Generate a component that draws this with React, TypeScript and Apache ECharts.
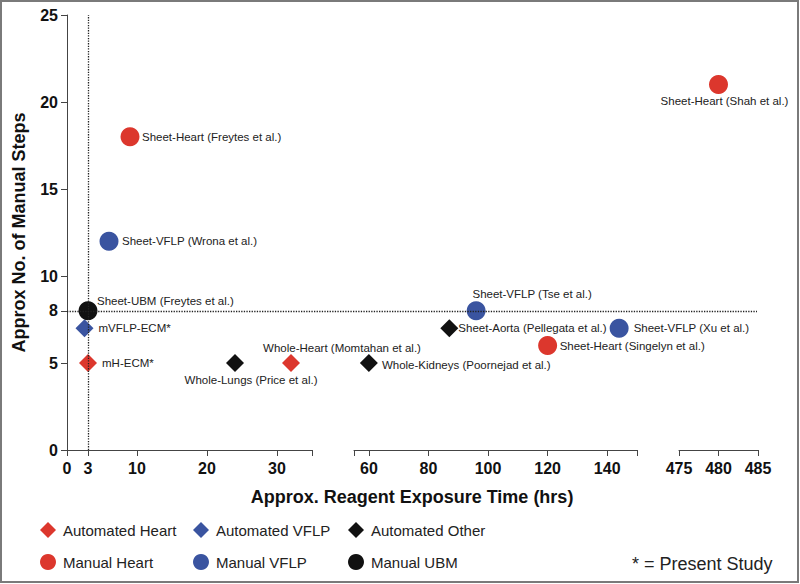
import React, { useEffect, useRef } from "react";
import * as echarts from "echarts";

// ---------- data ----------
const categories = [
  "Automated Heart",
  "Automated VFLP",
  "Automated Other",
  "Manual Heart",
  "Manual VFLP",
  "Manual UBM",
];

const pointNames = [
  "mH-ECM*",
  "Whole-Heart (Momtahan et al.)",
  "mVFLP-ECM*",
  "Whole-Lungs (Price et al.)",
  "Whole-Kidneys (Poornejad et al.)",
  "Sheet-Aorta (Pellegata et al.)",
  "Sheet-Heart (Freytes et al.)",
  "Sheet-Heart (Singelyn et al.)",
  "Sheet-Heart (Shah et al.)",
  "Sheet-VFLP (Wrona et al.)",
  "Sheet-VFLP (Tse et al.)",
  "Sheet-VFLP (Xu et al.)",
  "Sheet-UBM (Freytes et al.)",
];
const pointTimes = [3, 32, 2.5, 24, 60, 87, 9, 120, 480, 6, 96, 144, 3];
const pointSteps = [5, 5, 7, 5, 5, 7, 18, 6, 21, 12, 8, 7, 8];
const pointCategory = [0, 0, 1, 2, 2, 2, 3, 3, 3, 4, 4, 4, 5];

const axisSegments = [
  [0, 35],
  [55, 150],
  [475, 485],
];
const xTickValues = [
  [0, 3, 10, 20, 30, 35],
  [55, 60, 80, 100, 120, 140, 150],
  [475, 480, 485],
];
const xTickLabels = [
  [0, 3, 10, 20, 30],
  [60, 80, 100, 120, 140],
  [475, 480, 485],
];
const yTickLabels = [0, 5, 8, 10, 15, 20, 25];
const yRange = [0, 25];
const referenceSteps = 8;
const referenceTime = 3;

const xAxisTitle = "Approx. Reagent Exposure Time (hrs)";
const yAxisTitle = "Approx No. of Manual Steps";
const footnote = "* = Present Study";

// ---------- styles ----------
const FONT = "'Liberation Sans', Arial, Helvetica, sans-serif";
const categoryColors = ["#dc372d", "#3a54a0", "#111111", "#dc372d", "#3a54a0", "#111111"];
const categorySymbols = ["diamond", "diamond", "diamond", "circle", "circle", "circle"];
const categorySizes = [18, 18, 18, 19, 19, 19];

const gridBoxes = [
  { left: 67, width: 245 },
  { left: 354, width: 283 },
  { left: 679, width: 79 },
  { left: 67, width: 690 },
];
const GRID_TOP = 15;
const GRID_HEIGHT = 435;

const labelPlacement: Record<string, { position: string; offset: number[] }> = {
  "Sheet-Heart (Freytes et al.)": { position: "right", offset: [-2.5, 0] },
  "Sheet-VFLP (Wrona et al.)": { position: "right", offset: [-1.5, 0] },
  "Sheet-UBM (Freytes et al.)": { position: "right", offset: [-5.5, -10] },
  "mVFLP-ECM*": { position: "right", offset: [0, 0] },
  "mH-ECM*": { position: "right", offset: [0, 0] },
  "Whole-Lungs (Price et al.)": { position: "bottom", offset: [16, -3] },
  "Whole-Heart (Momtahan et al.)": { position: "top", offset: [51, 5] },
  "Whole-Kidneys (Poornejad et al.)": { position: "right", offset: [-1, 2] },
  "Sheet-Aorta (Pellegata et al.)": { position: "right", offset: [-5, 0] },
  "Sheet-VFLP (Tse et al.)": { position: "top", offset: [56, 4] },
  "Sheet-VFLP (Xu et al.)": { position: "right", offset: [0, 0] },
  "Sheet-Heart (Singelyn et al.)": { position: "right", offset: [-2.5, 0] },
  "Sheet-Heart (Shah et al.)": { position: "bottom", offset: [6, -4] },
};

const legendSlots = [
  { left: 40, top: 522 },
  { left: 193, top: 522 },
  { left: 348, top: 522 },
  { left: 40, top: 554 },
  { left: 193, top: 554 },
  { left: 348, top: 554 },
];

function buildOption() {
  const grids = gridBoxes.map((g) => ({
    left: g.left,
    width: g.width,
    top: GRID_TOP,
    height: GRID_HEIGHT,
    containLabel: false,
    outerBoundsMode: "none",
  }));

  const axisLine = { show: true, lineStyle: { color: "#444", width: 1 } };
  const tickLabelStyle = {
    color: "#111",
    fontWeight: "bold",
    fontSize: 16,
    fontFamily: FONT,
  };

  const xAxes: any[] = axisSegments.map((seg, i) => ({
    type: "value",
    gridIndex: i,
    min: seg[0],
    max: seg[1],
    axisLine,
    axisTick: {
      show: true,
      length: 6,
      lineStyle: { color: "#444" },
      customValues: xTickValues[i],
    },
    axisLabel: {
      ...tickLabelStyle,
      margin: 10,
      customValues: xTickLabels[i],
      showMinLabel: true,
      showMaxLabel: true,
      hideOverlap: false,
    },
    splitLine: { show: false },
  }));
  xAxes.push({
    type: "value",
    gridIndex: 3,
    min: 0,
    max: 1,
    axisLine: { show: false },
    axisTick: { show: false },
    axisLabel: { show: false },
    splitLine: { show: false },
    name: xAxisTitle,
    nameLocation: "middle",
    nameGap: 38,
    nameTextStyle: { color: "#111", fontWeight: "bold", fontSize: 18, fontFamily: FONT },
  });

  const yAxes: any[] = [0, 1, 2, 3].map((i) => ({
    type: "value",
    gridIndex: i,
    min: yRange[0],
    max: yRange[1],
    show: i === 0,
    axisLine,
    axisTick: {
      show: true,
      length: 6,
      lineStyle: { color: "#444" },
      customValues: yTickLabels,
    },
    axisLabel: {
      ...tickLabelStyle,
      margin: 9,
      customValues: yTickLabels,
      showMinLabel: true,
      showMaxLabel: true,
    },
    splitLine: { show: false },
    name: i === 0 ? yAxisTitle : "",
    nameLocation: "middle",
    nameGap: 39,
    nameTextStyle: { color: "#111", fontWeight: "bold", fontSize: 18, fontFamily: FONT },
  }));

  const series: any[] = [];
  axisSegments.forEach((seg, s) => {
    categories.forEach((cat, c) => {
      const items: any[] = [];
      pointNames.forEach((name, k) => {
        if (pointCategory[k] !== c) return;
        if (pointTimes[k] < seg[0] || pointTimes[k] > seg[1]) return;
        const lp = labelPlacement[name] || { position: "right", offset: [0, 0] };
        items.push({
          name,
          value: [pointTimes[k], pointSteps[k]],
          label: {
            show: true,
            formatter: "{b}",
            position: lp.position,
            offset: lp.offset,
            distance: 5,
            color: "#222",
            fontSize: 11.5,
            fontFamily: FONT,
          },
        });
      });
      if (!items.length) return;
      series.push({
        type: "scatter",
        name: cat,
        xAxisIndex: s,
        yAxisIndex: s,
        symbol: categorySymbols[c],
        symbolSize: categorySizes[c],
        itemStyle: { color: categoryColors[c], opacity: 1 },
        data: items,
        z: 3,
      });
    });
  });

  const markLineStyle = {
    silent: true,
    symbol: ["none", "none"],
    label: { show: false },
    lineStyle: { type: "dotted", color: "#222", width: 1.3 },
    animation: false,
  };
  series.push({
    type: "scatter",
    name: "ref-time",
    xAxisIndex: 0,
    yAxisIndex: 0,
    data: [],
    z: 1,
    markLine: { ...markLineStyle, data: [{ xAxis: referenceTime }] },
  });
  series.push({
    type: "scatter",
    name: "ref-steps",
    xAxisIndex: 3,
    yAxisIndex: 3,
    data: [],
    z: 1,
    markLine: { ...markLineStyle, data: [{ yAxis: referenceSteps }] },
  });

  const legends = categories.map((cat, c) => ({
    data: [{ name: cat, icon: categorySymbols[c] }],
    left: legendSlots[c].left,
    top: legendSlots[c].top,
    orient: "horizontal",
    itemWidth: 16,
    itemHeight: 16,
    padding: 0,
    selectedMode: false,
    textStyle: { color: "#222", fontSize: 15, fontFamily: FONT, padding: [0, 0, 0, 2] },
  }));

  return {
    animation: false,
    backgroundColor: "#ffffff",
    textStyle: { fontFamily: FONT },
    grid: grids,
    xAxis: xAxes,
    yAxis: yAxes,
    legend: legends,
    series,
    graphic: [
      {
        type: "rect",
        shape: { x: 1, y: 1, width: 797, height: 581 },
        style: { fill: "none", stroke: "#7a7a7a", lineWidth: 2 },
        silent: true,
        z: 100,
      },
      {
        type: "text",
        left: 632,
        top: 555,
        style: { text: footnote, fontSize: 18, fill: "#222", fontFamily: FONT },
      },
    ],
  };
}

export default function App() {
  const ref = useRef<HTMLDivElement>(null);
  useEffect(() => {
    if (!ref.current) return;
    const chart = echarts.init(ref.current, undefined, { renderer: "svg" });
    chart.setOption(buildOption() as any);
    return () => chart.dispose();
  }, []);
  return (
    <div
      ref={ref}
      style={{ position: "absolute", left: 0, top: 0, width: 800, height: 584, background: "#fff" }}
    />
  );
}
